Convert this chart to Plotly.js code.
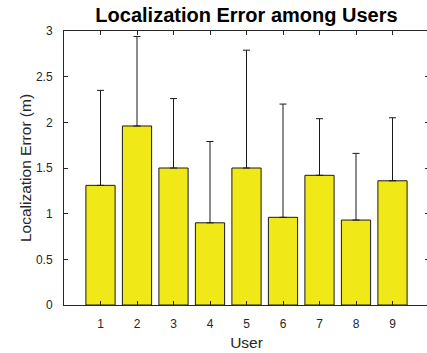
<!DOCTYPE html>
<html>
<head>
<meta charset="utf-8">
<script src="https://cdn.plot.ly/plotly-3.0.1.min.js"></script>
<style>
  html, body { margin: 0; padding: 0; overflow: hidden; background: #fff; }
  #chart { width: 429px; height: 353px; }
</style>
</head>
<body>
<div id="chart"></div>
<script>
// Mean localization error per user, with the upper end of each error bar
const users = [1, 2, 3, 4, 5, 6, 7, 8, 9];
const meanError = [1.31, 1.96, 1.50, 0.90, 1.50, 0.96, 1.42, 0.93, 1.36];
const upperBound = [2.35, 2.94, 2.26, 1.79, 2.79, 2.20, 2.04, 1.66, 2.05];
const yTicks = [0, 0.5, 1, 1.5, 2, 2.5, 3];

const plus = upperBound.map((u, i) => u - meanError[i]);
const minus = meanError.map(() => 0);

const axisColor = '#262626';
const font = 'Liberation Sans, Arial, Helvetica, sans-serif';

const trace = {
  type: 'bar',
  x: users,
  y: meanError,
  width: 0.8,
  marker: { color: '#f0e817', line: { color: '#1a1a1a', width: 1 } },
  error_y: {
    type: 'data',
    symmetric: false,
    array: plus,
    arrayminus: minus,
    color: '#1a1a1a',
    thickness: 1,
    width: 3.5
  },
  hoverinfo: 'none'
};

const layout = {
  width: 429,
  height: 353,
  margin: { l: 64, r: 0, t: 31, b: 48 },
  paper_bgcolor: '#fff',
  plot_bgcolor: '#fff',
  showlegend: false,
  font: { family: font, color: axisColor },
  title: {
    text: '<b>Localization Error among Users</b>',
    font: { family: font, size: 20, color: '#000' },
    x: 0.5, xanchor: 'center', xref: 'paper',
    y: 0.957, yanchor: 'middle'
  },
  xaxis: {
    range: [0, 10],
    tickmode: 'array',
    tickvals: users,
    ticktext: users.map(String),
    ticks: 'inside',
    ticklen: 4,
    tickcolor: axisColor,
    ticklabelstandoff: 8,
    showline: true,
    linecolor: axisColor,
    linewidth: 1,
    mirror: 'ticks',
    showgrid: false,
    zeroline: false,
    tickfont: { family: font, size: 12, color: axisColor },
    title: { text: 'User', font: { family: font, size: 15.5, color: axisColor }, standoff: 6 },
    automargin: false
  },
  yaxis: {
    range: [0, 3],
    tickmode: 'array',
    tickvals: yTicks,
    ticktext: yTicks.map(String),
    ticks: 'inside',
    ticklen: 4,
    tickcolor: axisColor,
    ticklabelstandoff: 8,
    showline: true,
    linecolor: axisColor,
    linewidth: 1,
    mirror: 'ticks',
    showgrid: false,
    zeroline: false,
    tickfont: { family: font, size: 12, color: axisColor },
    title: { text: 'Localization Error (m)', font: { family: font, size: 15.5, color: axisColor }, standoff: 0 },
    automargin: false
  }
};

Plotly.newPlot('chart', [trace], layout, { displayModeBar: false, staticPlot: true });
</script>
</body>
</html>
